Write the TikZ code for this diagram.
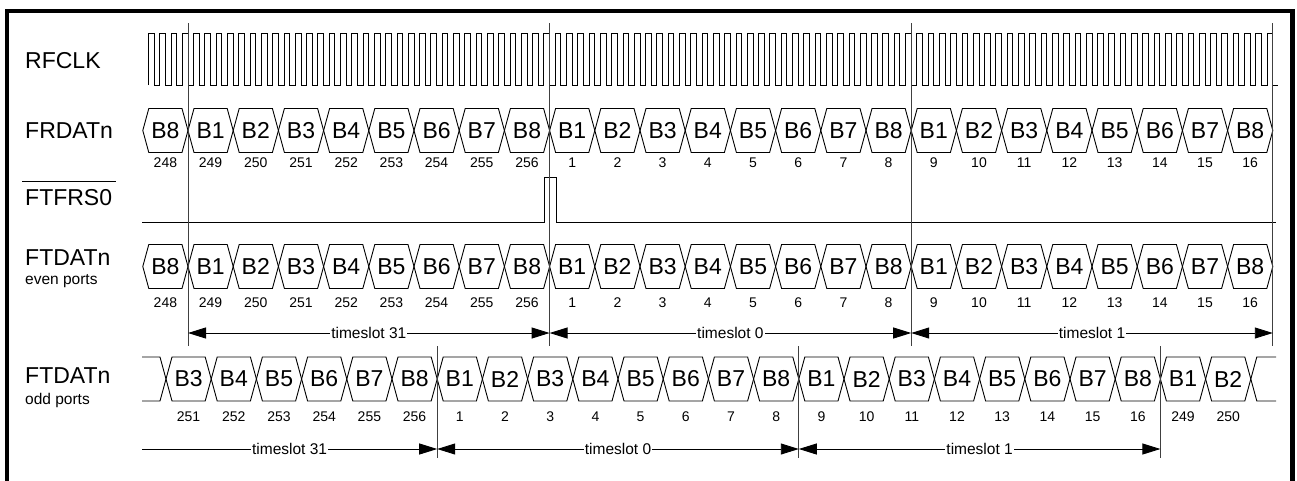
\documentclass[tikz,border=0pt]{standalone}
\usepackage{fontspec}
\setmainfont{Liberation Sans}
\usetikzlibrary{arrows.meta}

\begin{document}
\begin{tikzpicture}[x=1pt, y=-1pt, >={Triangle[length=18pt,width=11pt]},
  sig/.style={line width=0.9pt, line join=miter},
  frame/.style={line width=4.5pt},
  marker/.style={line width=0.8pt, black!75},
  signame/.style={anchor=base west, inner sep=0pt, font=\fontsize{23}{23}\selectfont},
  portname/.style={anchor=base west, inner sep=0pt, font=\fontsize{15.5}{15.5}\selectfont},
  bytelbl/.style={inner sep=0pt, font=\fontsize{23}{23}\selectfont},
  numlbl/.style={anchor=base, inner sep=0pt, font=\fontsize{14}{14}\selectfont},
  slot/.style={line width=0.9pt, <->},
  slotend/.style={line width=0.9pt, ->},
  slotlbl/.style={fill=white, inner sep=1pt, font=\fontsize{15.5}{15.5}\selectfont}]

  \useasboundingbox (0,0) rectangle (1297,480);
  \draw[frame] (7,490) -- (7,11) -- (1292.5,11) -- (1292.5,490);

  % signal names
  \node[signame] (rfclk) at (25,68) {RFCLK};
  \node[signame] (frdat) at (25,138) {FRDATn};
  \node[signame] (ftfrs) at (25,205) {FTFRS0};
  \draw[sig] ([xshift=-3pt,yshift=7pt]ftfrs.north west) -- ([xshift=4pt,yshift=7pt]ftfrs.north east);
  \node[signame] (ftdate) at (25,265) {FTDATn};
  \node[portname] (evenp) at (25,284) {even ports};
  \node[signame] (ftdato) at (25,383) {FTDATn};
  \node[portname] (oddp) at (25,404) {odd ports};

  % clock and frame sync
  \draw[sig] (148.4,85) \foreach \n in {1,...,100} { -- ++(0,-51.5) -- ++(5.65,0) -- ++(0,51.5) -- ++(5.65,0) };
  \draw[sig] (142,222) -- (544,222) -- (544,177) -- (556,177) -- (556,222) -- (1276,222);

  % FRDATn and even ports
  \foreach \yc/\yn/\nm in {130.5/167/fr, 266.5/307/ev} {
    \foreach \k in {0,...,24} {
      \pgfmathsetmacro{\xa}{142.8+45.2*\k}
      \pgfmathsetmacro{\xb}{\xa+45.2}
      \pgfmathtruncatemacro{\byte}{mod(\k+7,8)+1}
      \pgfmathtruncatemacro{\num}{\k<9 ? 248+\k : \k-8}
      \draw[sig] (\xa,\yc) -- ({\xa+6},{\yc-22}) -- ({\xb-6},{\yc-22}) -- (\xb,\yc) -- ({\xb-6},{\yc+22}) -- ({\xa+6},{\yc+22}) -- cycle;
      \node[bytelbl] (\nm-\k) at ({\xa+22.6},\yc) {B\byte};
      \node[numlbl] (\nm-num-\k) at ({\xa+22.6},\yn) {\num};
    }
  }

  % odd ports
  \draw[sig] (142,357) -- (160,357) -- (166,379) -- (160,401) -- (142,401);
  \foreach \k in {0,...,23} {
    \pgfmathsetmacro{\xa}{166+45.2*\k}
    \pgfmathsetmacro{\xb}{\xa+45.2}
    \pgfmathtruncatemacro{\byte}{mod(\k+2,8)+1}
    \pgfmathtruncatemacro{\num}{\k<6 ? 251+\k : (\k<22 ? \k-5 : \k+227)}
    \draw[sig] (\xa,379) -- ({\xa+6},357) -- ({\xb-6},357) -- (\xb,379) -- ({\xb-6},401) -- ({\xa+6},401) -- cycle;
    \node[bytelbl] (od-\k) at ({\xa+22.6},379) {B\byte};
    \node[numlbl] (od-num-\k) at ({\xa+22.6},421) {\num};
  }
  \draw[sig] (1276,357) -- (1256.8,357) -- (1250.8,379) -- (1256.8,401) -- (1276,401);

  % timeslot boundaries
  \foreach \j/\x in {0/188,1/549.6,2/911.2,3/1272.8} {
    \draw[marker] (\x,23) -- (\x,346);
    \coordinate (ev-ts\j) at (\x,333);
  }
  \foreach \j/\x in {1/437.2,2/798.8,3/1160.4} {
    \draw[marker] (\x,346) -- (\x,458);
    \coordinate (od-ts\j) at (\x,449);
  }
  \coordinate (od-ts0) at (142,449);

  \draw[slot] (ev-ts0) -- node[slotlbl] {timeslot 31} (ev-ts1);
  \draw[slot] (ev-ts1) -- node[slotlbl] {timeslot 0} (ev-ts2);
  \draw[slot] (ev-ts2) -- node[slotlbl] {timeslot 1} (ev-ts3);
  \draw[slotend] (od-ts0) -- node[slotlbl] {timeslot 31} (od-ts1);
  \draw[slot] (od-ts1) -- node[slotlbl] {timeslot 0} (od-ts2);
  \draw[slot] (od-ts2) -- node[slotlbl] {timeslot 1} (od-ts3);
\end{tikzpicture}
\end{document}
